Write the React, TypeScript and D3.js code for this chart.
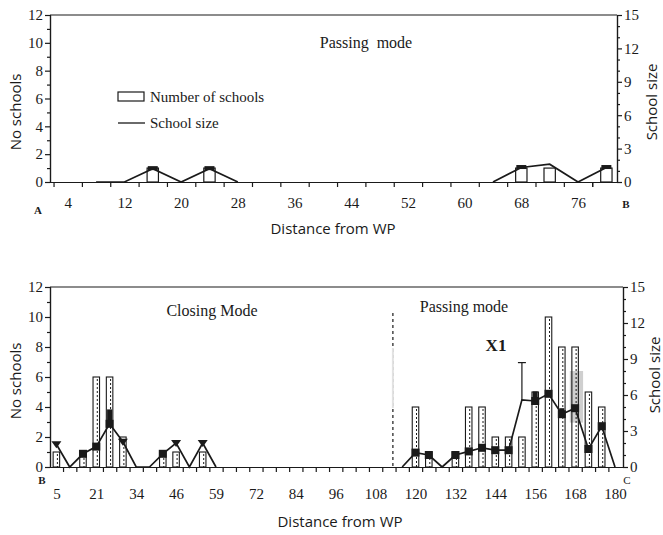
import * as React from 'react';
import * as d3 from 'd3';

import type { RefObject } from 'react';

// ---- top panel (A -> B, passing mode) ----
const topDist = [4, 8, 12, 16, 20, 24, 28, 32, 36, 40, 44, 48, 52, 56, 60, 64, 68, 72, 76, 80];
const topCount = [0, 0, 0, 1, 0, 1, 0, 0, 0, 0, 0, 0, 0, 0, 0, 0, 1, 1, 0, 1];
const topSize = [null, 0, 0, 1.2, 0, 1.2, 0, null, null, null, null, null, null, null, null, 0, 1.3, 1.6, 0, 1.3];
const topLabels = [4, 12, 20, 28, 36, 44, 52, 60, 68, 76];

// ---- bottom panel (B -> C, closing then passing mode) ----
const botLabels = ['5', '21', '34', '46', '59', '72', '84', '96', '108', '120', '132', '144', '156', '168', '180'];
const botCount = [
  1, 0, 1, 6, 6, 2, 0, 0, 1, 1, 0, 1, 0, 0, 0, 0, 0, 0, 0, 0, 0, 0,
  0, 0, 0, 0, 0, 4, 1, 0, 1, 4, 4, 2, 2, 2, 5, 10, 8, 8, 5, 4, 0,
];
const botSize = [
  1.9, 0, 1.1, 1.7, 3.6, 2.1, 0, 0, 1.1, 2.0, 0, 2.0, 0, null, null, null, null, null, null, null, null, null,
  null, null, null, null, 0, 1.2, 1.0, 0, 1.0, 1.3, 1.6, 1.4, 1.4, 5.6, 5.5, 6.1, 4.4, 4.9, 1.5, 3.4, 0,
];
// upper end of the error bars (school size)
const botErrIdx = [4, 35, 36, 38, 39];
const botErrHigh = [4.8, 8.7, 6.3, 4.9, 5.1];
const botTriangleIdx = [0, 5, 9, 11];
const modeSplit = 25.3;
const shadeBox = { from: 38.6, to: 39.6, low: 3.7, high: 8.0 };

const serif = '"Liberation Serif", "Times New Roman", serif';
const sans = '"Open Sans", "DejaVu Sans", sans-serif';
const ink = '#1a1a1a';

const Chart = () => {
  const ref: RefObject<SVGSVGElement> = React.createRef();

  React.useEffect(() => {
    draw();
  });

  const styleAxis = (g: any) => {
    g.selectAll('path, line').attr('stroke', ink).attr('stroke-width', 1.2);
    g.selectAll('text').attr('font-family', serif).attr('font-size', 15).attr('fill', ink);
  };

  const yAxes = (svg: any, yL: any, yR: any, left: number, right: number) => {
    svg.append('g').attr('transform', `translate(${left},0)`)
      .call(d3.axisLeft(yL).tickValues([0, 2, 4, 6, 8, 10, 12]).tickSize(5).tickSizeOuter(0).tickPadding(2))
      .call(styleAxis);
    svg.append('g').attr('transform', `translate(${left},0)`)
      .call(d3.axisLeft(yL).tickValues([1, 3, 5, 7, 9, 11]).tickSize(3).tickFormat(() => ''))
      .call(styleAxis);
    svg.append('g').attr('transform', `translate(${right},0)`)
      .call(d3.axisRight(yR).tickValues([0, 3, 6, 9, 12, 15]).tickSize(5).tickSizeOuter(0).tickPadding(2))
      .call(styleAxis);
    svg.append('g').attr('transform', `translate(${right},0)`)
      .call(d3.axisRight(yR).tickValues([1, 2, 4, 5, 7, 8, 10, 11, 13, 14]).tickSize(3).tickFormat(() => ''))
      .call(styleAxis);
  };

  const draw = () => {
    const svg = d3.select(ref.current);
    svg.selectAll('*').remove();

    // ================= top panel =================
    const x1 = d3.scaleLinear().domain([1.5, 81.5]).range([50, 617]);
    const y1L = d3.scaleLinear().domain([0, 12]).range([182, 15]);
    const y1R = d3.scaleLinear().domain([0, 15]).range([182, 15]);

    svg.append('line').attr('x1', 50).attr('x2', 617).attr('y1', 15).attr('y2', 15)
      .attr('stroke', ink).attr('stroke-width', 1.2);
    yAxes(svg, y1L, y1R, 50, 617);

    const xt1 = svg.append('g').attr('transform', 'translate(0,182)')
      .call(d3.axisBottom(x1).tickValues(topDist.map((d) => d - 2).concat([78])).tickSize(5).tickSizeOuter(0).tickFormat(() => ''));
    styleAxis(xt1);
    const xl1 = svg.append('g').attr('transform', 'translate(0,182)')
      .call(d3.axisBottom(x1).tickValues(topLabels).tickSize(0).tickPadding(15));
    xl1.select('.domain').remove();
    styleAxis(xl1);

    const bw1 = (x1(4) - x1(0)) * 0.4;
    svg.append('g').selectAll('rect')
      .data(topDist.map((d, i) => ({ d, v: topCount[i] })).filter((p) => p.v > 0))
      .join('rect')
      .attr('x', (p) => x1(p.d) - bw1 / 2)
      .attr('y', (p) => y1L(p.v))
      .attr('width', bw1)
      .attr('height', (p) => y1L(0) - y1L(p.v))
      .attr('fill', 'white').attr('stroke', ink).attr('stroke-width', 1.2);

    const topPts = topDist.map((d, i) => ({ d, v: topSize[i] }));
    svg.append('path').datum(topPts)
      .attr('fill', 'none').attr('stroke', ink).attr('stroke-width', 1.7)
      .attr('d', d3.line<any>().defined((p) => p.v !== null).x((p) => x1(p.d)).y((p) => y1R(p.v))(topPts) as string);
    svg.append('g').selectAll('rect')
      .data(topPts.filter((p) => p.v !== null && p.v > 0 && p.d !== 72))
      .join('rect')
      .attr('x', (p) => x1(p.d) - 5).attr('y', (p) => y1R(p.v) - 2.5)
      .attr('width', 10).attr('height', 4).attr('fill', ink);

    // legend
    svg.append('rect').attr('x', 118).attr('y', 92).attr('width', 26).attr('height', 9)
      .attr('fill', 'white').attr('stroke', ink).attr('stroke-width', 1.2);
    svg.append('text').attr('x', 150).attr('y', 102).text('Number of schools')
      .attr('font-family', serif).attr('font-size', 15).attr('fill', ink);
    svg.append('line').attr('x1', 118).attr('x2', 145).attr('y1', 123).attr('y2', 123)
      .attr('stroke', ink).attr('stroke-width', 1.3);
    svg.append('text').attr('x', 150).attr('y', 128).text('School size')
      .attr('font-family', serif).attr('font-size', 15).attr('fill', ink);

    svg.append('text').attr('x', 366).attr('y', 48).attr('text-anchor', 'middle').text('Passing  mode')
      .attr('font-family', serif).attr('font-size', 16).attr('fill', ink).attr('xml:space', 'preserve');
    svg.append('text').attr('x', 38).attr('y', 214).text('A').attr('text-anchor', 'middle')
      .attr('font-family', serif).attr('font-size', 11).attr('font-weight', 'bold').attr('fill', ink);
    svg.append('text').attr('x', 626).attr('y', 208).text('B').attr('text-anchor', 'middle')
      .attr('font-family', serif).attr('font-size', 11).attr('font-weight', 'bold').attr('fill', ink);
    svg.append('text').attr('x', 333).attr('y', 234).text('Distance from WP').attr('text-anchor', 'middle')
      .attr('font-family', sans).attr('font-size', 15).attr('fill', ink);
    svg.append('text').attr('transform', 'translate(21,112) rotate(-90)').text('No schools').attr('text-anchor', 'middle')
      .attr('font-family', sans).attr('font-size', 15).attr('fill', ink);
    svg.append('text').attr('transform', 'translate(657,102) rotate(-90)').text('School size').attr('text-anchor', 'middle')
      .attr('font-family', sans).attr('font-size', 15).attr('fill', ink);

    // ================= bottom panel =================
    const x2 = d3.scaleLinear().domain([-0.48, 42.6]).range([50, 623]);
    const y2L = d3.scaleLinear().domain([0, 12]).range([467, 287]);
    const y2R = d3.scaleLinear().domain([0, 15]).range([467, 287]);

    svg.append('line').attr('x1', 50).attr('x2', 623).attr('y1', 287).attr('y2', 287)
      .attr('stroke', ink).attr('stroke-width', 1.2);
    yAxes(svg, y2L, y2R, 50, 623);

    const idx = botCount.map((_, i) => i);
    const xt2 = svg.append('g').attr('transform', 'translate(0,467)')
      .call(d3.axisBottom(x2).tickValues(idx.map((i) => i + 0.5).filter((v) => v < 42.4)).tickSize(5).tickSizeOuter(0).tickFormat(() => ''));
    styleAxis(xt2);
    const xl2 = svg.append('g').attr('transform', 'translate(0,467)')
      .call(d3.axisBottom(x2).tickValues(botLabels.map((_, k) => k * 3)).tickSize(0).tickPadding(21)
        .tickFormat((_, k) => botLabels[k]));
    xl2.select('.domain').remove();
    styleAxis(xl2);

    // shaded box behind bars
    svg.append('rect')
      .attr('x', x2(shadeBox.from)).attr('width', x2(shadeBox.to) - x2(shadeBox.from))
      .attr('y', y2R(shadeBox.high)).attr('height', y2R(shadeBox.low) - y2R(shadeBox.high))
      .attr('fill', '#cfcfcf');

    const bw2 = 6.5;
    const bars2 = idx.map((i) => ({ i, v: botCount[i] })).filter((p) => p.v > 0);
    svg.append('g').selectAll('rect')
      .data(bars2)
      .join('rect')
      .attr('x', (p) => x2(p.i) - bw2 / 2)
      .attr('y', (p) => y2L(p.v))
      .attr('width', bw2)
      .attr('height', (p) => y2L(0) - y2L(p.v))
      .attr('fill', (p) => (p.i === 39 ? 'none' : 'white')).attr('stroke', ink).attr('stroke-width', 1.1);
    svg.append('g').selectAll('line')
      .data(bars2)
      .join('line')
      .attr('x1', (p) => x2(p.i) + 1).attr('x2', (p) => x2(p.i) + 1)
      .attr('y1', (p) => y2L(p.v) + 2).attr('y2', y2L(0))
      .attr('stroke', ink).attr('stroke-width', 1).attr('stroke-dasharray', '2,2');

    // mode split
    svg.append('line').attr('x1', x2(modeSplit)).attr('x2', x2(modeSplit))
      .attr('y1', 313).attr('y2', 467)
      .attr('stroke', ink).attr('stroke-width', 1.2).attr('stroke-dasharray', '3,3');
    svg.append('line').attr('x1', x2(modeSplit)).attr('x2', x2(modeSplit))
      .attr('y1', 348).attr('y2', 408)
      .attr('stroke', '#e2e2e2').attr('stroke-width', 2);

    const botPts = idx.map((i) => ({ i, v: botSize[i] }));
    svg.append('path').datum(botPts)
      .attr('fill', 'none').attr('stroke', ink).attr('stroke-width', 1.7)
      .attr('d', d3.line<any>().defined((p) => p.v !== null).x((p) => x2(p.i)).y((p) => y2R(p.v))(botPts) as string);

    // error bars
    const errs = botErrIdx.map((i, k) => ({ i, v: botSize[i] as number, hi: botErrHigh[k] }));
    svg.append('g').selectAll('line')
      .data(errs)
      .join('line')
      .attr('x1', (p) => x2(p.i)).attr('x2', (p) => x2(p.i))
      .attr('y1', (p) => y2R(p.v)).attr('y2', (p) => y2R(p.hi))
      .attr('stroke', ink).attr('stroke-width', (p) => (p.hi - p.v > 2 ? 1.2 : 5));
    svg.append('g').selectAll('line')
      .data(errs.filter((p) => p.hi - p.v > 2))
      .join('line')
      .attr('x1', (p) => x2(p.i) - 4).attr('x2', (p) => x2(p.i) + 4)
      .attr('y1', (p) => y2R(p.hi)).attr('y2', (p) => y2R(p.hi))
      .attr('stroke', ink).attr('stroke-width', 1.2);

    // markers
    const marks = botPts.filter((p) => p.v !== null && (p.v as number) > 0 && p.i !== 35);
    svg.append('g').selectAll('rect')
      .data(marks.filter((p) => !botTriangleIdx.includes(p.i)))
      .join('rect')
      .attr('x', (p) => x2(p.i) - 4).attr('y', (p) => y2R(p.v as number) - 4)
      .attr('width', 8).attr('height', 8).attr('fill', ink);
    svg.append('g').selectAll('path')
      .data(marks.filter((p) => botTriangleIdx.includes(p.i)))
      .join('path')
      .attr('d', (p) => {
        const cx = x2(p.i);
        const cy = y2R(p.v as number);
        return `M${cx - 5},${cy - 3}L${cx + 5},${cy - 3}L${cx},${cy + 4}Z`;
      })
      .attr('fill', ink);

    svg.append('text').attr('x', 212).attr('y', 316).attr('text-anchor', 'middle').text('Closing Mode')
      .attr('font-family', serif).attr('font-size', 16).attr('fill', ink);
    svg.append('text').attr('x', 464).attr('y', 312).attr('text-anchor', 'middle').text('Passing mode')
      .attr('font-family', serif).attr('font-size', 16).attr('fill', ink);
    svg.append('text').attr('x', 496).attr('y', 351).attr('text-anchor', 'middle').text('X1')
      .attr('font-family', serif).attr('font-size', 17).attr('font-weight', 'bold').attr('fill', ink);
    svg.append('text').attr('x', 42).attr('y', 484).text('B').attr('text-anchor', 'middle')
      .attr('font-family', serif).attr('font-size', 11).attr('font-weight', 'bold').attr('fill', ink);
    svg.append('text').attr('x', 627).attr('y', 484).text('C').attr('text-anchor', 'middle')
      .attr('font-family', serif).attr('font-size', 11).attr('fill', ink);
    svg.append('text').attr('x', 340).attr('y', 527).text('Distance from WP').attr('text-anchor', 'middle')
      .attr('font-family', sans).attr('font-size', 15).attr('fill', ink);
    svg.append('text').attr('transform', 'translate(21,381) rotate(-90)').text('No schools').attr('text-anchor', 'middle')
      .attr('font-family', sans).attr('font-size', 15).attr('fill', ink);
    svg.append('text').attr('transform', 'translate(660,375) rotate(-90)').text('School size').attr('text-anchor', 'middle')
      .attr('font-family', sans).attr('font-size', 15).attr('fill', ink);
  };

  return (
    <svg
      ref={ref}
      width={663}
      height={535}
      style={{ position: 'absolute', left: 0, top: 0, background: 'white' }}
    />
  );
};

export default function App() {
  return <Chart />;
}
